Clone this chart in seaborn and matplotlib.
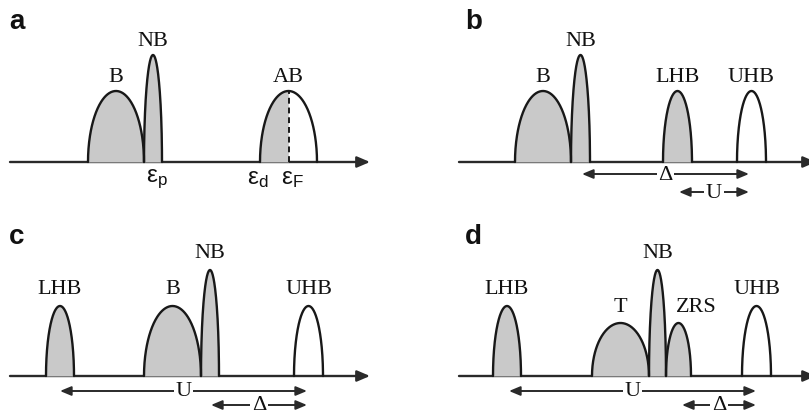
import numpy as np
import pandas as pd
import matplotlib
matplotlib.use("Agg")
import matplotlib.pyplot as plt
import seaborn as sns

sns.set_theme(style="white")
plt.rcParams["font.family"] = ["Liberation Serif", "DejaVu Serif"]

# Band tables per panel: name, centre, half-width, height (DOS), filled?
panel_a_names = ["B", "NB", "AB"]
panel_a_centres = [116, 153, 288.5]
panel_a_halfw = [28, 9, 28.5]
panel_a_heights = [71, 107, 71]
panel_a_fill = ["full", "full", "half"]

panel_b_names = ["B", "NB", "LHB", "UHB"]
panel_b_centres = [139, 176.5, 273.5, 347.5]
panel_b_halfw = [28, 9.5, 14.5, 14.5]
panel_b_heights = [71, 107, 71, 71]
panel_b_fill = ["full", "full", "full", "empty"]

panel_c_names = ["LHB", "B", "NB", "UHB"]
panel_c_centres = [60, 172.5, 210, 308.5]
panel_c_halfw = [14, 28.5, 9, 14.5]
panel_c_heights = [70, 70, 106, 70]
panel_c_fill = ["full", "full", "full", "empty"]

panel_d_names = ["LHB", "T", "NB", "ZRS", "UHB"]
panel_d_centres = [103, 216.5, 253.5, 274.5, 352.5]
panel_d_halfw = [14, 28.5, 8.5, 12.5, 14.5]
panel_d_heights = [70, 53, 106, 53, 70]
panel_d_fill = ["full", "full", "full", "full", "empty"]
# label anchors in panel d (ZRS label sits to the right of its band)
panel_d_label_x = [103, 216.5, 253.5, 292, 352.5]

# Energy-scale markers in panel a
eps_labels = [r"$\mathregular{ε_p}$", r"$\mathregular{ε_d}$", r"$\mathregular{ε_F}$"]
eps_positions = [146, 247, 281]

# Double-headed energy scales: (label, start, end, level)
scales_b = [("Δ", 178, 345, -12), ("U", 275, 345, -30)]
scales_c = [("U", 60, 307, -15), ("Δ", 211, 307, -29)]
scales_d = [("U", 105, 352, -15), ("Δ", 278, 352, -29)]

FILL = "#c9c9c9"
EDGE = "#181818"
AXC = "#2a2a2a"
TXT = "#111111"

fig = plt.figure(figsize=(8.09, 4.20), dpi=100)
W, H = 809, 420


def make_axes(x0, y0, w, h, baseline):
    ax = fig.add_axes([x0 / W, 1 - (y0 + h) / H, w / W, h / H])
    ax.set_xlim(0, w)
    ax.set_ylim(baseline - h, baseline)
    ax.axis("off")
    return ax


def draw_band(ax, c, hw, h, fill, ef=None):
    t = np.linspace(0, np.pi, 200)
    x = c - hw * np.cos(t)
    y = h * np.sin(t)
    if fill == "full":
        ax.fill_between(x, 0, y, color=FILL, lw=0, zorder=2)
    elif fill == "half":
        m = x <= ef
        ax.fill_between(x[m], 0, y[m], color=FILL, lw=0, zorder=2)
        ax.plot([ef, ef], [0, h * np.sqrt(max(0.0, 1 - ((ef - c) / hw) ** 2))],
                ls=(0, (3, 2)), color=EDGE, lw=1.4, zorder=3)
    df = pd.DataFrame({"e": x, "dos": y})
    sns.lineplot(data=df, x="e", y="dos", sort=False, estimator=None,
                 color=EDGE, lw=1.7, ax=ax, zorder=4)
    ax.set_xlabel("")
    ax.set_ylabel("")


def energy_axis(ax, x0, x1):
    ax.annotate("", xy=(x1, 0), xytext=(x0, 0), annotation_clip=False,
                arrowprops=dict(arrowstyle="-|>,head_length=0.7,head_width=0.3",
                                color=AXC, lw=1.7, shrinkA=0, shrinkB=0,
                                mutation_scale=11), zorder=1)


def energy_scale(ax, label, x0, x1, y):
    ax.annotate("", xy=(x1, y), xytext=(x0, y),
                arrowprops=dict(arrowstyle="<|-|>,head_length=0.6,head_width=0.25",
                                color=AXC, lw=1.4, shrinkA=0, shrinkB=0,
                                mutation_scale=11))
    ax.text((x0 + x1) / 2, y - 1, label, ha="center", va="center", fontsize=16,
            color=TXT,
            bbox=dict(boxstyle="square,pad=0.08", fc="white", ec="none"))


def band_labels(ax, names, xs, heights, offset=15):
    for n, c, h in zip(names, xs, heights):
        ax.text(c, h + offset, n, ha="center", va="center", fontsize=16,
                color=TXT)


def panel_letter(ax, x, y, s):
    ax.text(x, y, s, ha="left", va="center", fontsize=20, fontweight="bold",
            family=["Liberation Sans", "DejaVu Sans"], color=TXT)


# Panel a
ax_a = make_axes(0, 0, 404, 210, 162)
energy_axis(ax_a, 10, 370)
for c, hw, h, f in zip(panel_a_centres, panel_a_halfw, panel_a_heights, panel_a_fill):
    draw_band(ax_a, c, hw, h, f, ef=c)
band_labels(ax_a, panel_a_names, panel_a_centres, panel_a_heights, offset=14)
for lab, xp in zip(eps_labels, eps_positions):
    ax_a.text(xp, -6, lab, ha="left", va="top", fontsize=17.5,
              family=["Liberation Sans", "DejaVu Sans"], color=TXT)
panel_letter(ax_a, 9, 140, "a")

# Panel b
ax_b = make_axes(404, 0, 405, 210, 162)
energy_axis(ax_b, 55, 412)
for c, hw, h, f in zip(panel_b_centres, panel_b_halfw, panel_b_heights, panel_b_fill):
    draw_band(ax_b, c, hw, h, f)
band_labels(ax_b, panel_b_names, panel_b_centres, panel_b_heights, offset=14)
for s in scales_b:
    energy_scale(ax_b, *s)
panel_letter(ax_b, 61, 140, "b")

# Panel c
ax_c = make_axes(0, 210, 404, 210, 166)
energy_axis(ax_c, 10, 370)
for c, hw, h, f in zip(panel_c_centres, panel_c_halfw, panel_c_heights, panel_c_fill):
    draw_band(ax_c, c, hw, h, f)
band_labels(ax_c, panel_c_names, panel_c_centres, panel_c_heights, offset=16)
for s in scales_c:
    energy_scale(ax_c, *s)
panel_letter(ax_c, 9, 139, "c")

# Panel d
ax_d = make_axes(404, 210, 405, 210, 166)
energy_axis(ax_d, 55, 412)
for c, hw, h, f in zip(panel_d_centres, panel_d_halfw, panel_d_heights, panel_d_fill):
    draw_band(ax_d, c, hw, h, f)
band_labels(ax_d, panel_d_names, panel_d_label_x, panel_d_heights, offset=16)
for s in scales_d:
    energy_scale(ax_d, *s)
panel_letter(ax_d, 61, 139, "d")

fig.savefig("out.png", dpi=100, facecolor="white")
